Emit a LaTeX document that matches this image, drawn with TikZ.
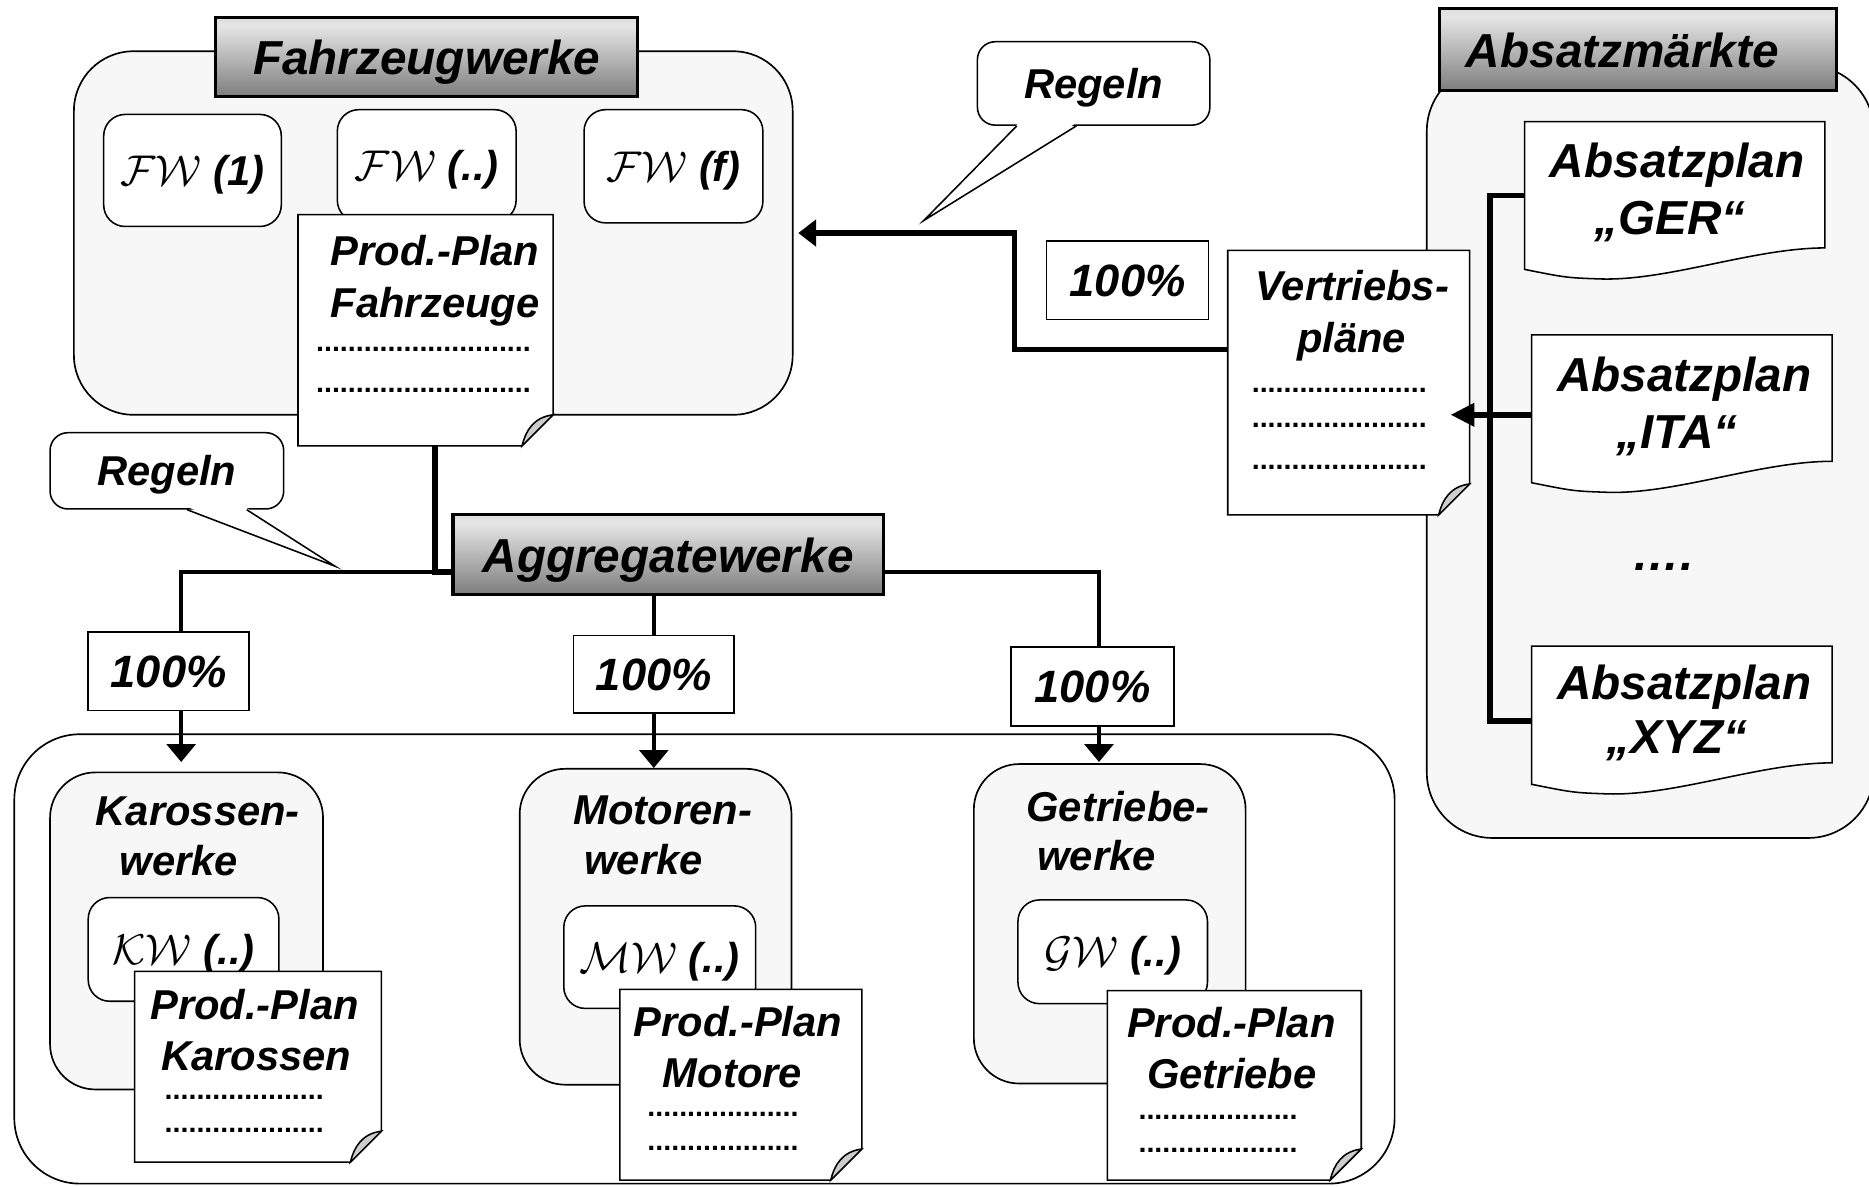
\documentclass[tikz,border=0pt]{standalone}
\usepackage{fontspec}
\setmainfont{Liberation Sans}
\usepackage{graphicx}
\usetikzlibrary{arrows.meta}

\definecolor{grpfill}{RGB}{247,247,247}
\definecolor{curlfill}{RGB}{205,205,205}
\pgfdeclareverticalshading{hdrshade}{100bp}{color(0bp)=(black!64); color(15bp)=(black!60); color(70bp)=(black!10); color(100bp)=(black!30)}

% calligraphic plant abbreviations (FW, KW, MW, GW)
\newcommand\calfw[1]{\scalebox{1.45}{\fontsize{24.88}{30}\selectfont$\mathcal{#1}$}}

% sheet with a curled lower right corner: name, left, top, right, bottom
\newcommand\foldsheet[5]{%
  \node[inner sep=0, minimum width={#4-#2}, minimum height={#5-#3}] (#1) at ({(#2+#4)/2},{(#3+#5)/2}) {};
  \filldraw[sheetline, fill=white] (#2,#3) -- (#4,#3) -- (#4,{#5-26}) -- ({#4-26},#5) -- (#2,#5) -- cycle;
  \filldraw[sheetline, fill=curlfill] ({#4-26},#5) .. controls ({#4-23},{#5-13}) and ({#4-16},{#5-24}) .. (#4,{#5-26}) -- cycle;
}

% sheet with a wavy lower edge: name, left, top, right, bottom of right side
\newcommand\wavesheet[5]{%
  \node[inner sep=0, minimum width={#4-#2}, minimum height={#5+18-#3}] (#1) at ({(#2+#4)/2},{(#3+#5+18)/2}) {};
  \filldraw[sheetline, fill=white] (#2,#3) -- (#4,#3) -- (#4,#5) .. controls ({#4-60},#5) and ({#2+120},{#5+28}) .. ({#2+63},{#5+26}) .. controls ({#2+35},{#5+25}) .. (#2,{#5+18}) -- cycle;
}

\begin{document}
\begin{tikzpicture}[x=1pt,y=-1pt,
  grpbox/.style={draw, line width=1.4pt, fill=grpfill, inner sep=0},
  hdrbox/.style={draw, line width=2.6pt, shade, shading=hdrshade, inner sep=0},
  wbox/.style={draw, line width=1.3pt, fill=white, rounded corners=18pt, inner sep=0},
  lbl/.style={font=\bfseries\itshape\fontsize{35}{42}\selectfont, text height=25pt, text depth=0pt, inner sep=0},
  biglbl/.style={font=\bfseries\itshape\fontsize{40}{48}\selectfont, text height=29pt, text depth=0pt, inner sep=0},
  pctbox/.style={draw, line width=1.3pt, fill=white, inner sep=0, font=\bfseries\itshape\fontsize{38}{44}\selectfont, text height=27pt, text depth=0pt},
  dotrow/.style={font=\bfseries\fontsize{24}{24}\selectfont, inner sep=0, anchor=base west},
  sheetline/.style={line width=1.3pt},
  callline/.style={line width=1.3pt},
  thickline/.style={line width=4.6pt},
  midline/.style={line width=3.3pt},
  tipL/.style={-{Triangle[length=15pt,width=22pt]}},
  tipD/.style={-{Triangle[length=15pt,width=24pt]}}]

\useasboundingbox (0,0) rectangle (1568,995);
\begin{scope}
\clip (0,0) rectangle (1568,995);

% ---------------- vehicle plants ----------------
\node[grpbox, rounded corners=50pt, minimum width=603, minimum height=305] (gFz) at (363.5,195.5) {};
\node[hdrbox, biglbl, minimum width=354, minimum height=66] (hFz) at (358,48) {Fahrzeugwerke};
\node[wbox, lbl, minimum width=149, minimum height=94] (fw1) at (161.5,143) {\calfw{FW} (1)};
\node[wbox, lbl, minimum width=150, minimum height=94] (fw2) at (358,139) {\calfw{FW} (..)};
\node[wbox, lbl, minimum width=150, minimum height=95] (fw3) at (565,139.5) {\calfw{FW} (f)};
\foldsheet{pFz}{250}{180}{464}{374}
\node[lbl] (pFzT1) at (365,210) {Prod.-Plan};
\node[lbl] (pFzT2) at (365,254) {Fahrzeuge};
\node[dotrow] (pFzD1) at (265,295) {...........................};
\node[dotrow] (pFzD2) at (265,329) {...........................};

% ---------------- sales markets ----------------
\node[grpbox, rounded corners=55pt, minimum width=375, minimum height=648] (gAbs) at (1384.5,379) {};
\node[hdrbox, minimum width=333, minimum height=69] (hAbs) at (1374.5,41.5) {};
\node[biglbl] (hAbsT) at (1361,42) {Absatzmärkte};
\wavesheet{ger}{1279}{102}{1531}{208}
\node[biglbl] (gerT1) at (1407,134) {Absatzplan};
\node[biglbl] (gerT2) at (1401,182) {„GER“};
\wavesheet{ita}{1285}{281}{1537}{387}
\node[biglbl] (itaT1) at (1413,314) {Absatzplan};
\node[biglbl] (itaT2) at (1407,362) {„ITA“};
\node[biglbl, anchor=base] (absMore) at (1395,479) {….};
\wavesheet{xyz}{1285}{542}{1537}{640}
\node[biglbl] (xyzT1) at (1413,572) {Absatzplan};
\node[biglbl] (xyzT2) at (1407,618) {„XYZ“};

% ---------------- distribution plans ----------------
\foldsheet{vtr}{1030}{210}{1233}{432}
\node[lbl] (vtrT1) at (1134.5,240) {Vertriebs-};
\node[lbl] (vtrT2) at (1134,283) {pläne};
\node[dotrow] (vtrD1) at (1050,329) {......................};
\node[dotrow] (vtrD2) at (1050,359) {......................};
\node[dotrow] (vtrD3) at (1050,394) {......................};
\node[pctbox, minimum width=136, minimum height=66] (pctV) at (946,235) {100\%};

% ---------------- rule callouts ----------------
\node[wbox, lbl, rounded corners=15pt, minimum width=195, minimum height=70] (callTop) at (917.5,70) {Regeln};
\coordinate (callTopTip) at (775,185);
\fill[white] ([xshift=-63.5pt,yshift=2pt]callTop.south) -- (callTopTip) -- ([xshift=-15.5pt,yshift=2pt]callTop.south) -- cycle;
\draw[callline] ([xshift=-64.5pt]callTop.south) -- (callTopTip) -- ([xshift=-14.5pt]callTop.south);

\node[wbox, lbl, rounded corners=15pt, minimum width=196, minimum height=64] (callLeft) at (140,395) {Regeln};
\coordinate (callLeftTip) at (281,475);
\fill[white] ([xshift=18pt,yshift=2pt]callLeft.south) -- (callLeftTip) -- ([xshift=66pt,yshift=2pt]callLeft.south) -- cycle;
\draw[callline] ([xshift=17pt]callLeft.south) -- (callLeftTip) -- ([xshift=67pt]callLeft.south);

% ---------------- component plants ----------------
\node[grpbox, fill=white, rounded corners=55pt, minimum width=1158, minimum height=377] (gAgg) at (591,804.5) {};
\node[hdrbox, biglbl, minimum width=361, minimum height=67] (agg) at (560.5,465.5) {Aggregatewerke};
\node[pctbox, minimum width=135, minimum height=66] (pct1) at (141.5,563) {100\%};
\node[pctbox, minimum width=135, minimum height=65] (pct2) at (548.5,565.5) {100\%};
\node[pctbox, minimum width=137, minimum height=66] (pct3) at (916.5,576) {100\%};

% body plants
\node[grpbox, rounded corners=38pt, minimum width=229, minimum height=266] (kar) at (156.5,781) {};
\node[lbl] (karT1) at (166,680) {Karossen-};
\node[lbl] (karT2) at (150,722) {werke};
\node[wbox, lbl, minimum width=160, minimum height=87] (kw) at (154,796.5) {\calfw{KW} (..)};
\foldsheet{pKar}{113}{815}{320}{975}
\node[lbl] (pKarT1) at (213.5,843) {Prod.-Plan};
\node[lbl] (pKarT2) at (215,886) {Karossen};
\node[dotrow] (pKarD1) at (138,922) {....................};
\node[dotrow] (pKarD2) at (138,950) {....................};

% engine plants
\node[grpbox, rounded corners=38pt, minimum width=228, minimum height=265] (mot) at (550,777.5) {};
\node[lbl] (motT1) at (556,679) {Motoren-};
\node[lbl] (motT2) at (540,721) {werke};
\node[wbox, lbl, minimum width=161, minimum height=86] (mw) at (553.5,803) {\calfw{MW} (..)};
\foldsheet{pMot}{520}{830}{723}{990}
\node[lbl] (pMotT1) at (619,857) {Prod.-Plan};
\node[lbl] (pMotT2) at (614.5,900) {Motore};
\node[dotrow] (pMotD1) at (543,937) {...................};
\node[dotrow] (pMotD2) at (543,965) {...................};

% gearbox plants
\node[grpbox, rounded corners=38pt, minimum width=228, minimum height=268] (get) at (931,775) {};
\node[lbl] (getT1) at (938,677) {Getriebe-};
\node[lbl] (getT2) at (920,718) {werke};
\node[wbox, lbl, minimum width=159, minimum height=87] (gw) at (933.5,798.5) {\calfw{GW} (..)};
\foldsheet{pGet}{929}{831}{1142}{990}
\node[lbl] (pGetT1) at (1033,858) {Prod.-Plan};
\node[lbl] (pGetT2) at (1033.5,901) {Getriebe};
\node[dotrow] (pGetD1) at (955,939) {....................};
\node[dotrow] (pGetD2) at (955,967) {....................};

% ---------------- connectors ----------------
\coordinate (bendV) at (851,244);
\draw[thickline, tipL] ([yshift=28pt]vtr.west) -| (bendV) |- ([xshift=4pt]gFz.east);

\coordinate (brk) at (1250,400);
\draw[thickline] (ger.west) -| (brk) |- ([yshift=-5pt]xyz.west);
\coordinate (vtrIn) at (1217,348);
\draw[thickline, -{Triangle[length=20pt,width=19pt]}] ([yshift=-5pt]ita.west) -- (vtrIn);

\draw[thickline] ([xshift=8pt]pFz.south) |- ([yshift=-14.5pt]agg.west);
\draw[midline] ([yshift=-14.5pt]agg.west) -| ([xshift=10.5pt]pct1.north);
\draw[midline, tipD] ([xshift=10.5pt]pct1.south) -- ([xshift=-4.5pt,yshift=8pt]kar.north);
\draw[midline] ([xshift=-11.5pt]agg.south) -- ([xshift=-11.5pt]agg.south |- pct2.north);
\draw[midline, tipD] (pct2.south) -- (pct2.south |- mot.north);
\draw[midline] ([yshift=-14.5pt]agg.east) -| ([xshift=5.5pt]pct3.north);
\draw[midline, tipD] ([xshift=5.5pt]pct3.south) -- ([xshift=-9pt,yshift=1pt]get.north);
\end{scope}
\end{tikzpicture}
\end{document}
